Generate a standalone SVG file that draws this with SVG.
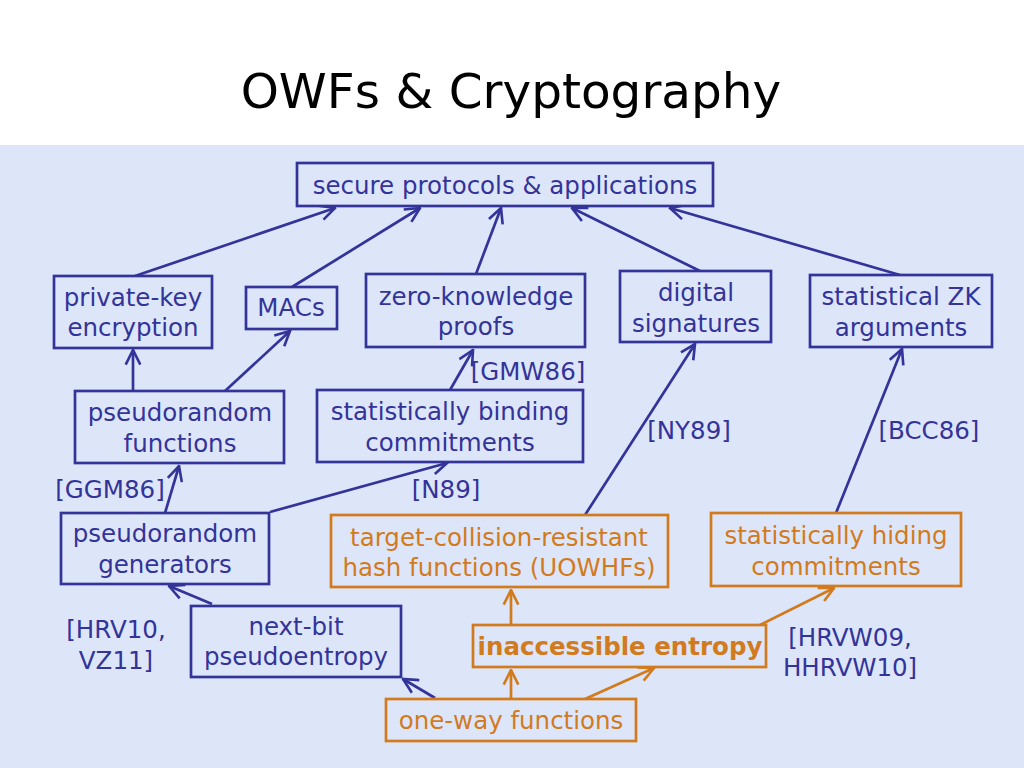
<svg xmlns="http://www.w3.org/2000/svg" width="1024" height="768" viewBox="0 0 1024 768">
<style>
text{font-family:"DejaVu Sans",sans-serif;font-size:24.5px;text-anchor:middle}
.n rect{fill:#dde6f8;stroke:#33339a;stroke-width:2.7}
.n text{fill:#33339a}
.o rect{fill:#dde6f8;stroke:#d27a1e;stroke-width:2.7}
.o text{fill:#d27a1e}
.lbl{fill:#33339a}
.cb line{stroke:#33339a;stroke-width:2.7;marker-end:url(#ab)}
.co line{stroke:#d27a1e;stroke-width:2.7;marker-end:url(#ao)}
</style>
<defs>
<marker id="ab" viewBox="0 0 12 12" refX="11" refY="6" markerWidth="6.5" markerHeight="6.5" orient="auto" markerUnits="strokeWidth"><path d="M1,1 L11,6 L1,11" fill="none" stroke="#33339a" stroke-width="1.8"/></marker>
<marker id="ao" viewBox="0 0 12 12" refX="11" refY="6" markerWidth="6.5" markerHeight="6.5" orient="auto" markerUnits="strokeWidth"><path d="M1,1 L11,6 L1,11" fill="none" stroke="#d27a1e" stroke-width="1.8"/></marker>
</defs>
<rect width="1024" height="768" fill="#ffffff"/>
<rect y="145" width="1024" height="623" fill="#dde6f8"/>
<text x="511" y="108" style="font-size:48.5px;fill:#000">OWFs &amp; Cryptography</text>

<g class="cb">
<line x1="135" y1="276" x2="335" y2="208"/>
<line x1="292" y1="287" x2="420" y2="208"/>
<line x1="476" y1="274" x2="501" y2="208"/>
<line x1="700" y1="271" x2="572" y2="208"/>
<line x1="900" y1="275" x2="670" y2="208"/>
<line x1="133" y1="391" x2="133" y2="350"/>
<line x1="225" y1="391" x2="290" y2="331"/>
<line x1="450" y1="390" x2="473" y2="350"/>
<line x1="165" y1="513" x2="179" y2="466"/>
<line x1="270" y1="512" x2="447" y2="463"/>
<line x1="585" y1="515" x2="695" y2="344"/>
<line x1="836" y1="513" x2="902" y2="349"/>
<line x1="212" y1="604" x2="169" y2="586"/>
<line x1="435" y1="698" x2="403" y2="679"/>
</g>
<g class="co">
<line x1="511" y1="699" x2="511" y2="670"/>
<line x1="585" y1="699" x2="654" y2="668"/>
<line x1="511" y1="625" x2="511" y2="590"/>
<line x1="760" y1="625" x2="834" y2="588"/>
</g>

<g id="secure" class="n"><rect x="297" y="163" width="416" height="43"/><text x="505" y="194">secure protocols &amp; applications</text></g>
<g id="privkey" class="n"><rect x="54" y="276" width="158" height="72"/><text x="133" y="306">private-key</text><text x="133" y="336">encryption</text></g>
<g id="macs" class="n"><rect x="246" y="287" width="91" height="42"/><text x="291" y="316">MACs</text></g>
<g id="zk" class="n"><rect x="366" y="274" width="219" height="73"/><text x="476" y="305">zero-knowledge</text><text x="476" y="335">proofs</text></g>
<g id="sig" class="n"><rect x="620" y="271" width="151" height="71"/><text x="696" y="301">digital</text><text x="696" y="332">signatures</text></g>
<g id="szk" class="n"><rect x="810" y="275" width="182" height="72"/><text x="901" y="305">statistical ZK</text><text x="901" y="336">arguments</text></g>
<g id="prf" class="n"><rect x="75" y="391" width="209" height="72"/><text x="180" y="421">pseudorandom</text><text x="180" y="452">functions</text></g>
<g id="sbc" class="n"><rect x="317" y="390" width="266" height="72"/><text x="450" y="420">statistically binding</text><text x="450" y="451">commitments</text></g>
<g id="prg" class="n"><rect x="61" y="513" width="208" height="71"/><text x="165" y="542">pseudorandom</text><text x="165" y="573">generators</text></g>
<g id="tcr" class="o"><rect x="331" y="515" width="337" height="72"/><text x="499" y="546">target-collision-resistant</text><text x="499" y="576">hash functions (UOWHFs)</text></g>
<g id="shc" class="o"><rect x="711" y="513" width="250" height="73"/><text x="836" y="544">statistically hiding</text><text x="836" y="575">commitments</text></g>
<g id="nbp" class="n"><rect x="191" y="606" width="210" height="71"/><text x="296" y="635">next-bit</text><text x="296" y="665">pseudoentropy</text></g>
<g id="ie" class="o"><rect x="473" y="625" width="293" height="42"/><text x="620" y="655" style="font-weight:bold">inaccessible entropy</text></g>
<g id="owf" class="o"><rect x="386" y="699" width="250" height="42"/><text x="511" y="729">one-way functions</text></g>

<g class="lbl">
<text x="528" y="380" class="lbl">[GMW86]</text>
<text x="689" y="439" class="lbl">[NY89]</text>
<text x="929" y="439" class="lbl">[BCC86]</text>
<text x="110" y="498" class="lbl">[GGM86]</text>
<text x="446" y="498" class="lbl">[N89]</text>
<text x="116" y="638" class="lbl">[HRV10,</text>
<text x="116" y="669" class="lbl">VZ11]</text>
<text x="850" y="646" class="lbl">[HRVW09,</text>
<text x="850" y="676" class="lbl">HHRVW10]</text>
</g>
</svg>
